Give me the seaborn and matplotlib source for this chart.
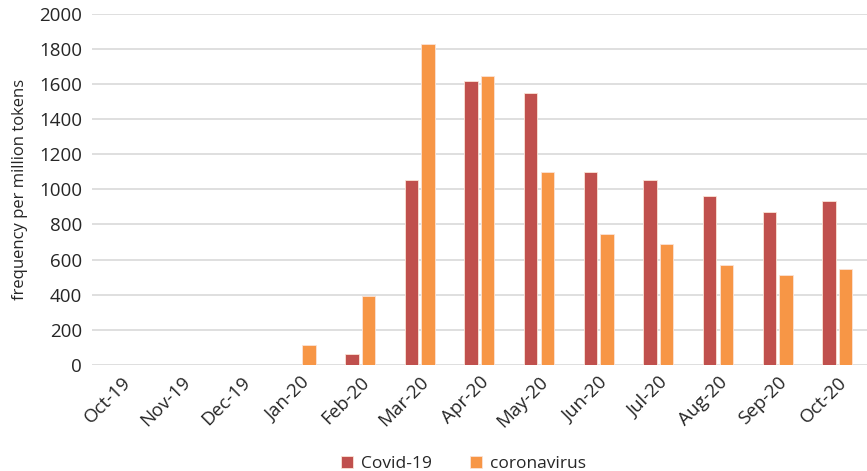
import pandas as pd
import matplotlib
matplotlib.use("Agg")
import matplotlib.pyplot as plt
import seaborn as sns

# ---------------- data ----------------
MONTHS = ["Oct-19", "Nov-19", "Dec-19", "Jan-20", "Feb-20", "Mar-20", "Apr-20",
          "May-20", "Jun-20", "Jul-20", "Aug-20", "Sep-20", "Oct-20"]
COVID19 = [0, 0, 0, 0, 63, 1055, 1617, 1551, 1101, 1055, 962, 870, 935]
CORONAVIRUS = [0, 0, 0, 114, 394, 1828, 1643, 1100, 743, 690, 571, 512, 546]
SERIES = ["Covid-19", "coronavirus"]
COLORS = {"Covid-19": "#C0504D", "coronavirus": "#F79646"}

df = pd.DataFrame({"month": MONTHS * 2,
                   "term": [SERIES[0]] * len(MONTHS) + [SERIES[1]] * len(MONTHS),
                   "freq": COVID19 + CORONAVIRUS})

sns.set_theme(style="white")
plt.rcParams["font.family"] = ["Open Sans", "DejaVu Sans"]

fig, ax = plt.subplots(figsize=(8.67, 4.71), dpi=100)
fig.subplots_adjust(left=0.106, right=1.0, top=0.971, bottom=0.225)

sns.barplot(data=df, x="month", y="freq", hue="term", hue_order=SERIES,
            order=MONTHS, palette=COLORS, saturation=1, width=0.56, gap=0.2,
            edgecolor="#fbe3d6", linewidth=0.6, ax=ax, legend=True)

ax.set_ylim(0, 2000)
ax.set_yticks(range(0, 2001, 200))
ax.set_xlim(-0.5, len(MONTHS) - 0.5)
ax.yaxis.grid(True, color="#d9d9d9", linewidth=1.2)
ax.set_axisbelow(True)
for s in ax.spines.values():
    s.set_visible(False)
ax.tick_params(axis="both", length=0, labelsize=13.5, colors="#262626")
ax.tick_params(axis="y", pad=7)
ax.tick_params(axis="x", pad=6)
plt.setp(ax.get_xticklabels(), rotation=45, ha="right", rotation_mode="anchor")
ax.set_xlabel("")
ax.set_ylabel("frequency per million tokens", fontsize=12, color="#262626", labelpad=8)

ax.legend(title="", loc="lower center", ncol=2, frameon=False, fontsize=12.5,
          handlelength=0.65, handleheight=0.65, columnspacing=2.2, handletextpad=0.5)
ax.get_legend().set_bbox_to_anchor((0.535, -0.035), transform=fig.transFigure)

fig.savefig("out.png", dpi=100)
plt.close(fig)
